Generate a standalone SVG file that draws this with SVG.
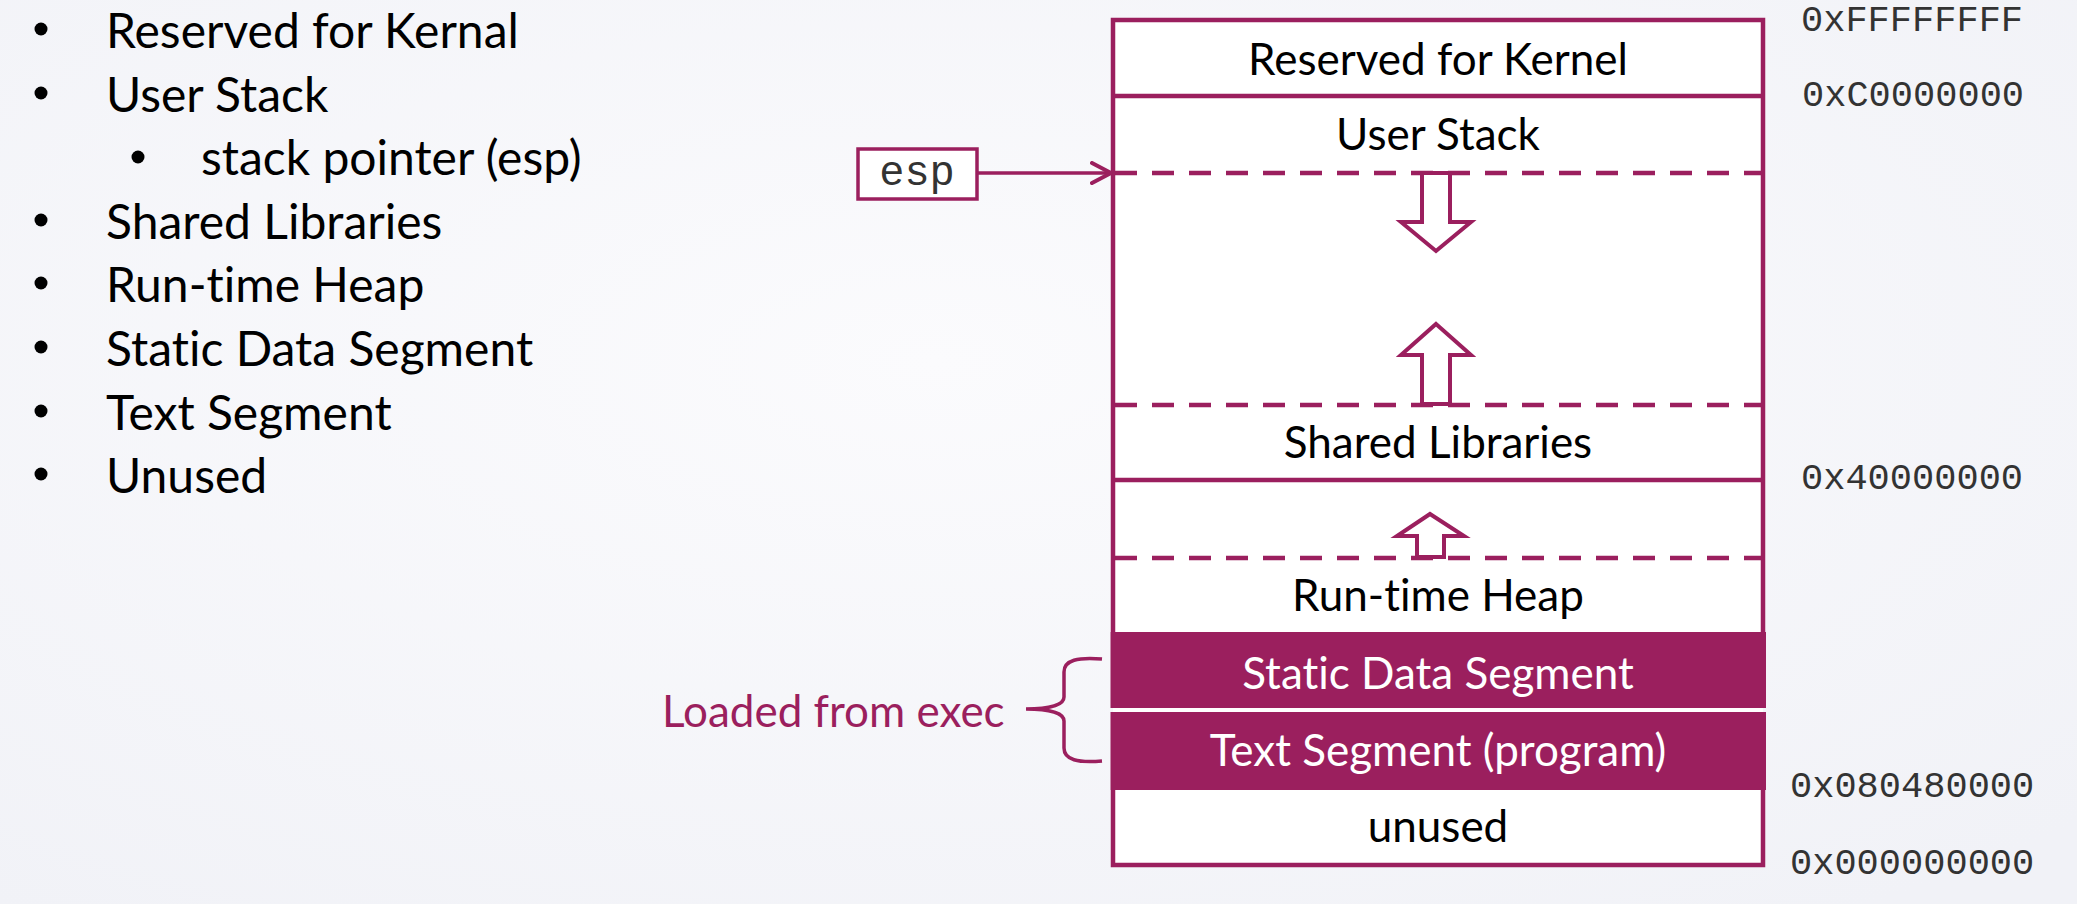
<svg xmlns="http://www.w3.org/2000/svg" width="2077" height="904" viewBox="0 0 2077 904">
<defs>
<radialGradient id="bg" cx="0.45" cy="0.4" r="0.75">
<stop offset="0" stop-color="#FBFBFD"/>
<stop offset="1" stop-color="#F1F2F7"/>
</radialGradient>
<marker id="chev" markerWidth="24" markerHeight="24" viewBox="0 0 24 24" refX="21" refY="12" orient="auto" markerUnits="userSpaceOnUse">
<path d="M2,2 L21,12 L2,22" fill="none" stroke="#9B1F5E" stroke-width="4" stroke-linecap="round" stroke-linejoin="round"/>
</marker>
</defs>
<style>
text{font-variant-ligatures:none}
.list{font-family:Lato,"Open Sans",sans-serif;font-size:48px;fill:#000}
.lbl{font-family:Lato,"Open Sans",sans-serif;font-size:44px;fill:#000;text-anchor:middle}
.wlbl{font-family:Lato,"Open Sans",sans-serif;font-size:44px;fill:#fff;text-anchor:middle}
.addr{font-family:"Liberation Mono","Courier New",monospace;font-size:37px;fill:#333}
.solid{stroke:#9B1F5E;stroke-width:4.5;fill:none}
.dash{stroke:#9B1F5E;stroke-width:4.5;fill:none;stroke-dasharray:22 15}
.arr{stroke:#9B1F5E;stroke-width:4;fill:#fff;stroke-linejoin:miter}
.fillseg{fill:#9B1F5E}
</style>
<rect width="2077" height="904" fill="url(#bg)"/>

<g id="bullets">
<circle cx="41" cy="29" r="6.5" fill="#000"/>
<text class="list" x="106" y="48">Reserved for Kernal</text>
<circle cx="41" cy="93" r="6.5" fill="#000"/>
<text class="list" x="106" y="112">User Stack</text>
<circle cx="138" cy="157" r="6.5" fill="#000"/>
<text class="list" x="201" y="175">stack pointer (esp)</text>
<circle cx="41" cy="220" r="6.5" fill="#000"/>
<text class="list" x="106" y="239">Shared Libraries</text>
<circle cx="41" cy="283" r="6.5" fill="#000"/>
<text class="list" x="106" y="302">Run-time Heap</text>
<circle cx="41" cy="347" r="6.5" fill="#000"/>
<text class="list" x="106" y="366">Static Data Segment</text>
<circle cx="41" cy="411" r="6.5" fill="#000"/>
<text class="list" x="106" y="430">Text Segment</text>
<circle cx="41" cy="474" r="6.5" fill="#000"/>
<text class="list" x="106" y="493">Unused</text>
</g>

<g id="memory-box">
<rect x="1113" y="20" width="650" height="845" fill="#fff"/>
</g>

<g id="kernel">
<text class="lbl" x="1438" y="75">Reserved for Kernel</text>
</g>

<g id="user-stack">
<line class="solid" x1="1113" y1="96" x2="1763" y2="96"/>
<text class="lbl" x="1438" y="150">User Stack</text>
<line class="dash" x1="1115" y1="173" x2="1763" y2="173"/>
<path class="arr" d="M1422,173 L1450,173 L1450,222 L1471,222 L1436,251 L1401,222 L1422,222 Z"/>
</g>

<g id="shared-libraries">
<path class="arr" d="M1436,324 L1471,355 L1450,355 L1450,404 L1422,404 L1422,355 L1401,355 Z"/>
<line class="dash" x1="1115" y1="405" x2="1763" y2="405"/>
<text class="lbl" x="1438" y="458">Shared Libraries</text>
<line class="solid" x1="1113" y1="480" x2="1763" y2="480"/>
</g>

<g id="heap">
<path class="arr" d="M1430,514 L1464,536 L1444,536 L1444,557 L1417,557 L1417,536 L1397,536 Z"/>
<line class="dash" x1="1115" y1="558" x2="1763" y2="558"/>
<text class="lbl" x="1438" y="611">Run-time Heap</text>
</g>

<g id="static-data">
<rect class="fillseg" x="1110.5" y="632" width="655.5" height="76"/>
<text class="wlbl" x="1438" y="689">Static Data Segment</text>
</g>

<g id="text-segment">
<rect class="fillseg" x="1110.5" y="712" width="655.5" height="78"/>
<text class="wlbl" x="1438" y="766">Text Segment (program)</text>
</g>

<g id="unused">
<text class="lbl" x="1438" y="842">unused</text>
</g>

<g id="box-outline">
<path class="solid" d="M1113,632 L1113,20 L1763,20 L1763,632 M1113,790 L1113,865 L1763,865 L1763,790"/>
</g>

<g id="esp">
<rect x="858" y="149" width="119" height="50" fill="#fff" stroke="#9B1F5E" stroke-width="3.5"/>
<text x="917" y="185" font-family="'Liberation Mono','Courier New',monospace" font-size="42" fill="#333" text-anchor="middle">esp</text>
</g>

<g id="loaded-label">
<text x="662" y="727" font-family="Lato,'Open Sans',sans-serif" font-size="44" fill="#9B1F5E">Loaded from exec</text>
<path d="M1102,659 C1078,657 1064,660 1064,672 L1064,697 C1064,705 1050,709 1026,709 C1050,709 1064,713 1064,721 L1064,748 C1064,760 1078,763 1102,761" fill="none" stroke="#9B1F5E" stroke-width="3.5"/>
</g>

<g id="addresses">
<text class="addr" x="1801" y="31">0xFFFFFFFF</text>
<text class="addr" x="1802" y="106">0xC0000000</text>
<text class="addr" x="1801" y="489">0x40000000</text>
<text class="addr" x="1790" y="797">0x080480000</text>
<text class="addr" x="1790" y="874">0x000000000</text>
</g>

<g id="connectors">
<line x1="977" y1="173" x2="1111" y2="173" stroke="#9B1F5E" stroke-width="3.5" marker-end="url(#chev)"/>
</g>
</svg>
